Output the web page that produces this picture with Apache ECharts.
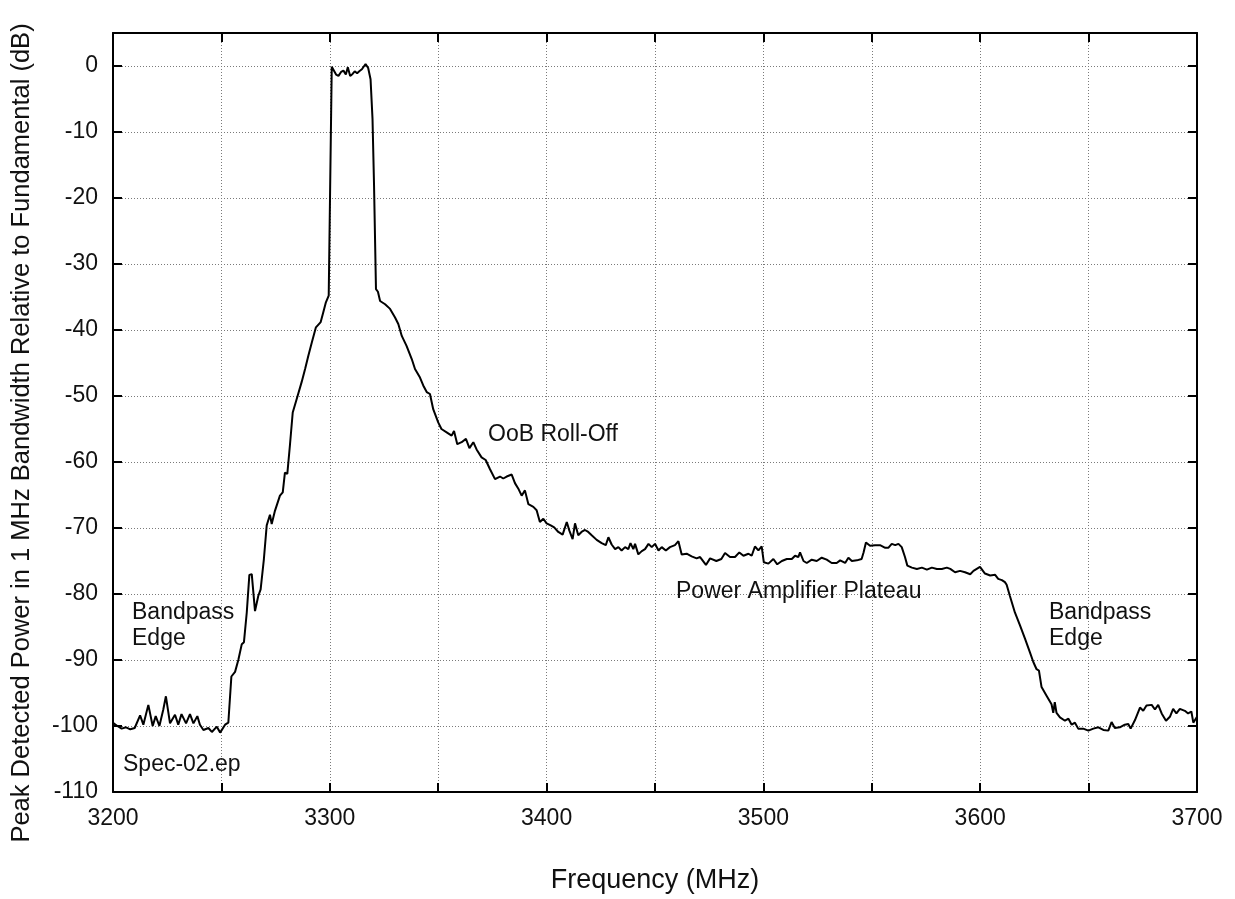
<!DOCTYPE html>
<html>
<head>
<meta charset="utf-8">
<title>Peak Detected Power Spectrum</title>
<script src="https://cdn.jsdelivr.net/npm/echarts@6/dist/echarts.min.js"></script>
<style>
  html, body { margin: 0; padding: 0; background: #ffffff; }
  #chart { width: 1235px; height: 899px; }
</style>
</head>
<body>
<div id="chart"></div>
<script>
// Measured spectrum: frequency (MHz) and peak power relative to the fundamental (dB)
const freqMHz = [
  3200, 3202, 3204, 3206, 3208, 3210, 3212.5, 3214, 3216.3, 3218.3,
  3219.7, 3221.4, 3223.2, 3224.4, 3226.3, 3228.6, 3230.1, 3231.6, 3233.7, 3235.5,
  3237.1, 3238.9, 3240.1, 3241.7, 3244, 3245.6, 3247.9, 3249.4, 3251.7, 3253.2,
  3254, 3254.6, 3256.3, 3257.8, 3259.4, 3260.4, 3261.7, 3262.9, 3264, 3265.5,
  3267, 3268.1, 3269.6, 3270.9, 3272.4, 3273.2, 3274.7, 3277, 3278.3, 3279.3,
  3280.4, 3281.6, 3282.9, 3284.7, 3287, 3288.6, 3290.1, 3291.7, 3293.6, 3295.8,
  3297, 3298.2, 3299.5, 3300.9, 3302.9, 3304, 3305.2, 3306.3, 3307.4, 3308.3,
  3309.4, 3310.5, 3311.5, 3312.6, 3313.6, 3314.8, 3316.5, 3317.7, 3318.8, 3319.7,
  3320.4, 3321.3, 3322.2, 3323.2, 3325.5, 3327.8, 3330.1, 3331.6, 3333.2, 3335.4,
  3337.8, 3339.3, 3341.6, 3343.1, 3344.7, 3346.2, 3347.7, 3350, 3351.5, 3353.9,
  3356.2, 3357.3, 3358.8, 3360.8, 3362.8, 3364.4, 3366.2, 3367.7, 3370, 3371.9,
  3373.9, 3376.2, 3378.5, 3380, 3381.6, 3383.9, 3385.4, 3386.9, 3388.5, 3390,
  3391.6, 3393.9, 3395.4, 3396.9, 3398.5, 3400, 3401.9, 3403.5, 3405.4, 3407.4,
  3409.3, 3410.5, 3412, 3413.1, 3414.6, 3416.1, 3417.7, 3419.2, 3420.8, 3423.1,
  3425.4, 3427.3, 3428.5, 3430, 3431.6, 3433.1, 3434.6, 3436.2, 3437.7, 3438.7,
  3440, 3440.8, 3442.3, 3443.9, 3445.4, 3447, 3448.5, 3450, 3451.6, 3453.1,
  3455, 3456.9, 3459.2, 3460.8, 3462.3, 3464.6, 3466.9, 3469.2, 3470.8, 3473.5,
  3475.4, 3478.3, 3480.6, 3482.3, 3484.6, 3486.9, 3488.9, 3490.8, 3493.1, 3494.6,
  3496.1, 3497.7, 3499.2, 3500.2, 3502.3, 3504.6, 3506.4, 3508.5, 3510.8, 3513.1,
  3514.6, 3516.1, 3516.9, 3518.5, 3520, 3522.3, 3524.6, 3526.9, 3529.2, 3531.5,
  3533.8, 3535.4, 3537.7, 3539.2, 3540.8, 3543.1, 3545.3, 3546.2, 3547.3, 3549.2,
  3551.5, 3553.8, 3556.2, 3557.6, 3559.2, 3560.8, 3562.3, 3563.8, 3565.3, 3566.4,
  3568.5, 3570.8, 3573.1, 3575.4, 3577.7, 3580, 3582.3, 3584.6, 3586.2, 3588.4,
  3590.7, 3593, 3595.4, 3596.9, 3599.9, 3602.2, 3604.6, 3606.9, 3608.3, 3610,
  3611.4, 3612.2, 3613.7, 3616, 3618.4, 3620.7, 3622.9, 3624.5, 3626, 3627.1,
  3628.3, 3630.6, 3632.9, 3633.7, 3634.4, 3635.2, 3636.8, 3639.1, 3640.7, 3642.2,
  3643.7, 3645.2, 3647.5, 3649.9, 3652.2, 3654.5, 3656.8, 3659.1, 3660.6, 3662.1,
  3664.4, 3666.7, 3668.3, 3669.4, 3671.4, 3673.7, 3675.2, 3676.7, 3679.1, 3680.6,
  3682.1, 3683.7, 3685.7, 3687.5, 3689, 3690.5, 3692.1, 3694.4, 3695.9, 3697.4,
  3698.3, 3700
];

const powerDB = [
  -99.5, -100, -100.4, -100.2, -100.5, -100.3, -98.4, -99.8, -96.8, -100,
  -98.5, -100, -97.5, -95.5, -99.6, -98.3, -99.8, -98.2, -99.6, -98.2,
  -99.6, -98.5, -99.8, -100.6, -100.3, -100.9, -100.1, -101, -99.8, -99.5,
  -99.3, -92.5, -91.8, -90, -87.6, -87.3, -82.8, -77.1, -77, -82.6,
  -80.3, -79.3, -74.7, -69.6, -68, -69.4, -67.4, -65.1, -64.6, -61.6,
  -61.8, -57.5, -52.5, -50.5, -47.9, -45.9, -43.9, -41.9, -39.6, -38.8,
  -37.3, -35.8, -34.8, -0.1, -1.3, -1.5, -0.9, -0.7, -1.3, -0.2,
  -1.5, -1.2, -0.8, -1.1, -0.8, -0.5, 0.3, -0.3, -2.0, -8,
  -18, -33.8, -34.2, -35.6, -36.1, -36.8, -38.1, -39.1, -40.9, -42.4,
  -44.4, -45.9, -47.2, -48.4, -49.4, -49.7, -52, -54, -55, -55.5,
  -56, -55.3, -57.3, -57, -56.5, -57.9, -57, -58.1, -59.3, -59.7,
  -61.1, -62.6, -62.2, -62.5, -62.2, -61.9, -63.2, -64, -65.1, -64.3,
  -66.4, -66.8, -67.3, -69.1, -68.6, -69.3, -69.6, -69.9, -70.6, -71,
  -69.1, -70.4, -71.7, -69.3, -71.1, -70.6, -70.3, -70.6, -71.1, -71.8,
  -72.3, -72.6, -71.4, -72.5, -73.2, -72.9, -73.4, -72.9, -73.2, -72.3,
  -73.2, -72.4, -74, -73.5, -73.2, -72.4, -72.9, -72.4, -73.4, -72.9,
  -73.4, -72.9, -72.6, -72, -74, -73.9, -74.3, -74.6, -74.4, -75.6,
  -74.6, -75, -74.7, -73.8, -74.4, -74.4, -73.7, -74.2, -73.9, -74.2,
  -72.8, -73.4, -72.8, -75.2, -75.4, -74.7, -75.5, -75, -74.7, -74.7,
  -74.2, -74.4, -73.7, -75, -75.3, -74.8, -75, -74.5, -74.8, -75.3,
  -75.3, -74.9, -75.3, -74.5, -75, -74.9, -74.7, -73.7, -72.2, -72.7,
  -72.6, -72.6, -73, -73, -72.4, -72.6, -72.4, -72.9, -74.4, -75.7,
  -76, -76.2, -76, -76.3, -76, -76.2, -76.2, -76, -76.2, -76.7,
  -76.5, -76.7, -77, -76.5, -75.9, -76.9, -77.2, -77.1, -77.7, -77.9,
  -78.2, -78.6, -80.3, -82.8, -84.8, -86.8, -88.8, -90.3, -91.4, -91.6,
  -94.1, -95.4, -96.7, -98, -96.4, -98, -98.7, -99.2, -98.9, -99.8,
  -99.5, -100.4, -100.4, -100.7, -100.4, -100.2, -100.6, -100.7, -99.4, -100.3,
  -100.2, -99.8, -99.7, -100.4, -99.1, -97.2, -97.7, -96.9, -96.8, -97.5,
  -96.8, -98.1, -99.2, -98.6, -97.4, -98.1, -97.4, -97.7, -98.1, -97.8,
  -99.5, -98.6
];

// Axis settings
const freqMin = 3200, freqMax = 3700, freqTickStep = 50, freqLabelStep = 100;
const dbMin = -110, dbMax = 5, dbTickStep = 10;

// Titles and annotations
const xTitle = 'Frequency (MHz)';
const yTitle = 'Peak Detected Power in 1 MHz Bandwidth Relative to Fundamental (dB)';
const notes = [
  { text: 'Bandpass', x: 132, y: 613 },
  { text: 'Edge', x: 132, y: 639 },
  { text: 'Spec-02.ep', x: 123, y: 765 },
  { text: 'OoB Roll-Off', x: 488, y: 435 },
  { text: 'Power Amplifier Plateau', x: 676, y: 592 },
  { text: 'Bandpass', x: 1049, y: 613 },
  { text: 'Edge', x: 1049, y: 639 }
];

const FONT = '"Liberation Sans", Arial, Helvetica, sans-serif';
const seriesData = freqMHz.map((f, i) => [f, powerDB[i]]);

const gridDots = { show: true, lineStyle: { color: '#7a7a7a', width: 1, type: [1, 2] } };
const frame = { show: true, onZero: false, lineStyle: { color: '#000', width: 2 } };
const innerTicks = { show: true, inside: true, length: 9, lineStyle: { color: '#000', width: 2 } };

const chart = echarts.init(document.getElementById('chart'), null, { renderer: 'canvas' });

chart.setOption({
  animation: false,
  backgroundColor: '#ffffff',
  grid: { left: 113, right: 38, top: 33, bottom: 106, containLabel: false },
  xAxis: [
    {
      type: 'value', position: 'bottom',
      min: freqMin, max: freqMax, interval: freqTickStep,
      axisLine: frame, axisTick: innerTicks, splitLine: gridDots,
      axisLabel: {
        margin: 15, color: '#111', fontSize: 23, fontFamily: FONT,
        formatter: v => (v % freqLabelStep === 0 ? String(v) : '')
      },
      name: xTitle, nameLocation: 'middle', nameGap: 75,
      nameTextStyle: { color: '#111', fontSize: 27, fontFamily: FONT }
    },
    {
      type: 'value', position: 'top',
      min: freqMin, max: freqMax, interval: freqTickStep,
      axisLine: frame, axisTick: innerTicks, splitLine: { show: false },
      axisLabel: { show: false }
    }
  ],
  yAxis: [
    {
      type: 'value', position: 'left',
      min: dbMin, max: dbMax, interval: dbTickStep,
      axisLine: frame, axisTick: innerTicks, splitLine: gridDots,
      axisLabel: {
        margin: 15, color: '#111', fontSize: 23, fontFamily: FONT,
        formatter: v => (v > 0 ? '' : String(v))
      }
    },
    {
      type: 'value', position: 'right',
      min: dbMin, max: dbMax, interval: dbTickStep,
      axisLine: frame, axisTick: innerTicks, splitLine: { show: false },
      axisLabel: { show: false }
    }
  ],
  series: [
    {
      type: 'line',
      xAxisIndex: 0, yAxisIndex: 0,
      data: seriesData,
      showSymbol: false, symbol: 'none', smooth: false,
      lineStyle: { color: '#000', width: 2 },
      z: 5
    }
  ],
  graphic: [
    {
      type: 'text', rotation: Math.PI / 2,
      x: 22, y: 433,
      style: {
        text: yTitle, fill: '#111', fontSize: 25.5, fontFamily: FONT,
        align: 'center', verticalAlign: 'middle'
      }
    }
  ].concat(notes.map(n => ({
    type: 'text',
    x: n.x, y: n.y,
    style: {
      text: n.text, fill: '#111', fontSize: 23, fontFamily: FONT,
      align: 'left', verticalAlign: 'middle'
    },
    z: 10
  })))
});
</script>
</body>
</html>
